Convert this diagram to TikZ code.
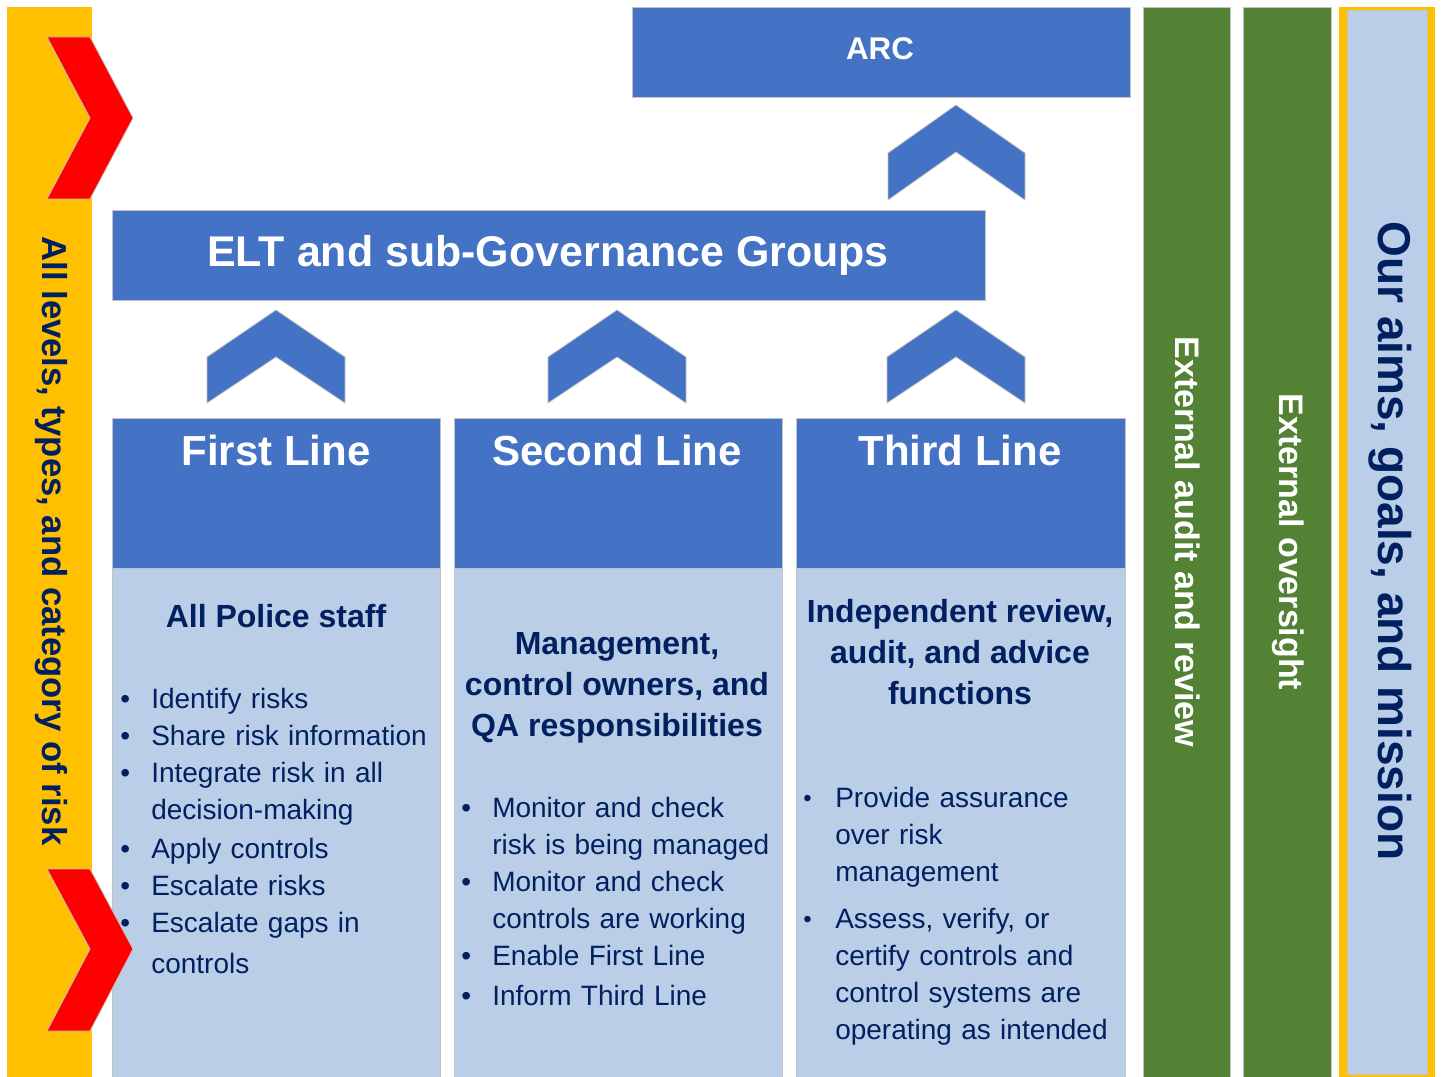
\documentclass[tikz,border=0pt]{standalone}
\usepackage{fontspec}
\setmainfont{Liberation Sans}
\definecolor{midblue}{RGB}{68,114,196}
\definecolor{paleblue}{RGB}{187,206,232}
\definecolor{bargreen}{RGB}{84,130,53}
\definecolor{gold}{RGB}{255,192,0}
\definecolor{navy}{RGB}{0,32,96}
% bullet lines with a hanging indent
\newcommand{\bitem}[1]{\par\hangindent=23.25pt\hangafter=1\noindent\makebox[23.25pt][l]{\textbullet}#1}
\newcommand{\sitem}[1]{\par\hangindent=24pt\hangafter=1\noindent\makebox[24pt][l]{\raisebox{0.9pt}{\fontsize{18}{18}\selectfont\textbullet}}#1}
\begin{document}
\begin{tikzpicture}[x=0.75pt,y=0.75pt,yscale=-1,xscale=1,
        edge/.style={draw={rgb, 255:red, 195; green, 195; blue, 195}, line width=0.6pt},
        darkbox/.style={edge, fill=midblue},
        palebox/.style={edge, fill=paleblue},
        greenbar/.style={edge, fill=bargreen},
        redchev/.style={edge, fill=red},
        bluechev/.style={edge, fill=midblue},
        headtext/.style={text=white, font=\bfseries\fontsize{31.5}{36}\selectfont, inner sep=0.75pt},
        subtext/.style={text=navy, font=\bfseries\fontsize{24}{30.75}\selectfont, align=center, inner sep=0.75pt},
        bodytext/.style={text=navy, font=\fontsize{21}{27.75}\selectfont, anchor=north west, inner sep=0pt, text width=240pt},
        sidetext/.style={font=\bfseries\fontsize{25.5}{30}\selectfont, rotate=-90, inner sep=0.75pt}]
        \useasboundingbox (0,0) rectangle (1447,1077);

        %Shape: left bar
        \draw [fill=gold, draw=none] (7,7) rectangle (92,1077);
        %Shape: top red chevron
        \draw [redchev] (47,37) -- (90,37) -- (133,118) -- (90,199) -- (47,199) -- (90,118) -- cycle;

        %Shape: ARC box
        \draw [darkbox] (632,7) rectangle (1130,97);
        %Shape: ARC chevron
        \draw [bluechev] (888,200) -- (888,153) -- (956,105) -- (1025,153) -- (1025,200) -- (956,152) -- cycle;
        %Shape: ELT box
        \draw [darkbox] (112,210) rectangle (985,300);
        %Shapes: chevrons under ELT
        \foreach \cx in {276,617,956}
          \draw [bluechev] (\cx-69,403) -- (\cx-69,357) -- (\cx,310) -- (\cx+69,357) -- (\cx+69,403) -- (\cx,357) -- cycle;

        %Shapes: three lines
        \draw [darkbox] (112,418) rectangle (440,568);
        \draw [palebox] (112,568) rectangle (440,1077);
        \draw [darkbox] (454,418) rectangle (782,568);
        \draw [palebox] (454,568) rectangle (782,1077);
        \draw [darkbox] (796,418) rectangle (1125,568);
        \draw [palebox] (796,568) rectangle (1125,1077);

        %Shape: bottom red chevron
        \draw [redchev] (47,869) -- (90,869) -- (133,949) -- (90,1031) -- (47,1031) -- (90,949) -- cycle;

        %Shapes: right bars
        \draw [greenbar] (1143,7) rectangle (1230,1077);
        \draw [greenbar] (1243,7) rectangle (1331,1077);
        \draw [fill=gold, draw=none] (1339,7) rectangle (1435,1077);
        \draw [palebox] (1347,10.5) rectangle (1427,1074);

        % Text Node
        \node [headtext, font=\bfseries\fontsize{23.5}{28}\selectfont] (arc) at (880,49) {ARC};
        % Text Node
        \node [headtext, anchor=base, font=\bfseries\fontsize{32.2}{36}\selectfont] (elt) at (548,267) {ELT and sub-Governance Groups};
        % Text Node
        \node [headtext] (firsthead) at (276,450) {First Line};
        % Text Node
        \node [headtext] (secondhead) at (617,450) {Second Line};
        % Text Node
        \node [headtext] (thirdhead) at (960,450) {Third Line};

        % Text Node
        \node [subtext] (firstsub) at (276,616) {All Police staff};
        % Text Node
        \node [subtext] (secondsub) at (617,688) {Management,\\control owners, and\\QA responsibilities};
        % Text Node
        \node [subtext] (thirdsub) at (960,652) {Independent review,\\audit, and advice\\functions};

        % Text Node
        \node [bodytext] (firstbody) at (120,671) {\parskip=0pt
          \bitem{Identify risks}
          \bitem{Share risk information}
          \bitem{Integrate risk in all\newline decision-making}
          \par\vspace{1.5pt}
          \bitem{Apply controls}
          \bitem{Escalate risks}
          \bitem{Escalate gaps in\vadjust{\vskip3pt}\newline controls}\par};
        % Text Node
        \node [bodytext] (secondbody) at (461,780) {\parskip=0pt
          \bitem{Monitor and check\newline risk is being managed}
          \bitem{Monitor and check\newline controls are working}
          \bitem{Enable First Line}
          \par\vspace{2.25pt}
          \bitem{Inform Third Line}\par};
        % Text Node
        \node [bodytext] (thirdbody) at (803,760) {\parskip=7.5pt
          \sitem{Provide assurance\newline over risk\newline management}
          \sitem{Assess, verify, or\newline certify controls and\newline control systems are\newline operating as intended}\par};

        % Text Node
        \node [sidetext, text=navy, font=\bfseries\fontsize{26}{30}\selectfont] (risklabel) at (51,541) {All levels, types, and category of risk};
        % Text Node
        \node [sidetext, text=white] (auditlabel) at (1188,542) {External audit and review};
        % Text Node
        \node [sidetext, text=white] (oversightlabel) at (1288,542) {External oversight};
        % Text Node
        \node [sidetext, text=navy, font=\bfseries\fontsize{34.5}{40}\selectfont] (aimslabel) at (1390,541) {Our aims, goals, and mission};
\end{tikzpicture}
\end{document}
